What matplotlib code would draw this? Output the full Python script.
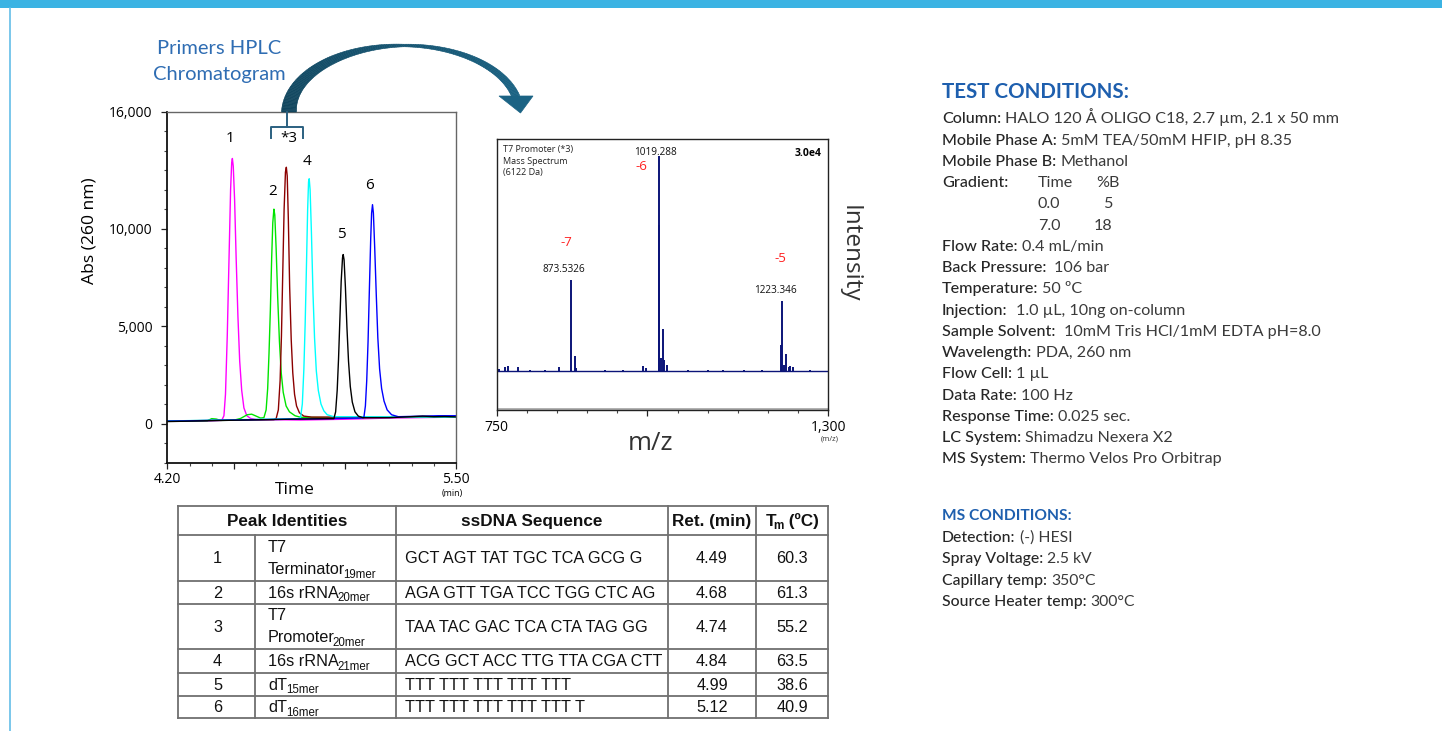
import matplotlib
matplotlib.use("Agg")
import matplotlib.pyplot as plt
from matplotlib.patches import Polygon, Rectangle
from matplotlib.ticker import FixedLocator, MultipleLocator
import numpy as np

# ------------------------------------------------------------------ data
# Chromatogram traces: time (min) and absorbance (260 nm)
p1_time = [4.20, 4.30, 4.40, 4.445, 4.455, 4.462, 4.470, 4.478, 4.485, 4.490, 4.493, 4.497, 4.503,
           4.510, 4.518, 4.526, 4.535, 4.545, 4.558, 4.575, 4.60, 4.80, 5.00, 5.20, 5.50]
p1_abs = [120, 130, 150, 160, 400, 1500, 4500, 8500, 12000, 13400, 13600, 13200, 11500,
          8500, 5500, 3200, 1700, 800, 400, 260, 210, 180, 220, 280, 330]

p2_time = [4.20, 4.38, 4.40, 4.42, 4.44, 4.50, 4.53, 4.56, 4.58, 4.60, 4.62, 4.635, 4.645, 4.652,
           4.658, 4.664, 4.670, 4.675, 4.680, 4.684, 4.690, 4.697, 4.705, 4.713, 4.722, 4.735,
           4.750, 4.775, 4.80, 5.00, 5.50]
p2_abs = [120, 140, 250, 230, 160, 170, 260, 450, 480, 380, 280, 300, 700, 1800,
          3600, 5800, 8500, 10300, 11000, 10700, 9000, 6500, 4200, 2600, 1600, 900,
          600, 400, 320, 300, 330]

p3_time = [4.20, 4.68, 4.690, 4.700, 4.708, 4.714, 4.720, 4.726, 4.732, 4.736, 4.740, 4.745,
           4.751, 4.758, 4.765, 4.773, 4.782, 4.795, 4.815, 4.85, 5.50]
p3_abs = [130, 200, 250, 700, 2200, 4500, 7800, 11000, 12900, 13150, 12700, 10500,
          7000, 4300, 2600, 1500, 900, 550, 380, 330, 330]

p4_time = [4.20, 4.79, 4.800, 4.808, 4.815, 4.821, 4.827, 4.832, 4.836, 4.839, 4.843, 4.849,
           4.856, 4.863, 4.871, 4.880, 4.892, 4.905, 4.92, 4.95, 5.50]
p4_abs = [130, 250, 300, 1000, 2800, 5200, 8300, 11000, 12400, 12560, 12000, 9800,
          6700, 4400, 2700, 1700, 1000, 650, 450, 350, 330]

p5_time = [4.20, 4.50, 4.80, 4.95, 4.958, 4.965, 4.971, 4.977, 4.983, 4.989, 4.992, 4.996,
           5.002, 5.009, 5.016, 5.024, 5.033, 5.045, 5.06, 5.08, 5.20, 5.35, 5.40, 5.45, 5.50]
p5_abs = [100, 170, 230, 250, 600, 1700, 3300, 5300, 7300, 8500, 8670, 8400,
          7000, 4900, 3200, 1900, 1100, 600, 380, 300, 300, 380, 350, 360, 340]

p6_time = [4.20, 5.07, 5.085, 5.092, 5.098, 5.104, 5.110, 5.116, 5.120, 5.124, 5.128, 5.134,
           5.141, 5.148, 5.156, 5.165, 5.176, 5.190, 5.21, 5.24, 5.35, 5.42, 5.50]
p6_abs = [120, 280, 300, 900, 2200, 4200, 6900, 9500, 10800, 11230, 10800, 9000,
          6600, 4400, 2800, 1800, 1150, 700, 450, 350, 380, 400, 400]

trace_colors = ["#ff00ff", "#00e400", "#8b0000", "#00ffff", "#000000", "#0000ff"]
peak_labels = ["1", "2", "*3", "4", "5", "6"]

# Mass spectrum (m/z, relative intensity; 100 = 3.0e4)
ms_mz = [754.4, 763.8, 769.3, 786.0, 805.0, 830.0, 854.0, 873.53, 879.6, 881.5, 930.0, 960.0,
         993.2, 997.0, 1019.29, 1019.9, 1022.1, 1025.2, 1027.9, 1031.8, 1068.0, 1100.0, 1126.0,
         1160.0, 1190.0, 1221.7, 1223.35, 1227.1, 1229.9, 1234.0, 1236.6, 1242.0, 1270.0]
ms_int = [1.1, 2.0, 2.6, 1.9, 0.6, 0.7, 2.0, 42.6, 7.3, 1.5, 0.7, 0.6,
          2.6, 1.5, 100.0, 68.0, 6.0, 19.8, 5.4, 3.1, 0.8, 0.6, 0.8,
          0.6, 0.7, 12.4, 32.9, 3.1, 8.2, 2.0, 2.3, 2.0, 0.6]
ms_label_text = ["873.5326", "1019.288", "1223.346"]
ms_charges = ["-7", "-6", "-5"]

# Table
tbl_num = ["1", "2", "3", "4", "5", "6"]
tbl_name_top = ["T7", "", "T7", "", "", ""]
tbl_name = ["Terminator", "16s rRNA", "Promoter", "16s rRNA", "dT", "dT"]
tbl_name_sub = ["19mer", "20mer", "20mer", "21mer", "15mer", "16mer"]
tbl_seq = ["GCT AGT TAT TGC TCA GCG G", "AGA GTT TGA TCC TGG CTC AG", "TAA TAC GAC TCA CTA TAG GG",
           "ACG GCT ACC TTG TTA CGA CTT", "TTT TTT TTT TTT TTT", "TTT TTT TTT TTT TTT T"]
tbl_ret = ["4.49", "4.68", "4.74", "4.84", "4.99", "5.12"]
tbl_tm = ["60.3", "61.3", "55.2", "63.5", "38.6", "40.9"]

cond_labels = ["Column:", "Mobile Phase A:", "Mobile Phase B:", "Gradient:", "", "",
               "Flow Rate:", "Back Pressure:", "Temperature:", "Injection:", "Sample Solvent:",
               "Wavelength:", "Flow Cell:", "Data Rate:", "Response Time:", "LC System:", "MS System:"]
cond_values = ["HALO 120 Å OLIGO C18, 2.7 µm, 2.1 x 50 mm", "5mM TEA/50mM HFIP, pH 8.35", "Methanol", "",
               "", "", "0.4 mL/min", "106 bar", "50 ºC", "1.0 µL, 10ng on-column",
               "10mM Tris HCl/1mM EDTA pH=8.0", "PDA, 260 nm", "1 µL", "100 Hz", "0.025 sec.",
               "Shimadzu Nexera X2", "Thermo Velos Pro Orbitrap"]
cond_gap = [1, 1, 1, 1, 1, 1, 1, 2, 1, 2, 2, 1, 1, 1, 1, 1, 1]
grad_time = ["0.0", "7.0"]
grad_b = ["5", "18"]

ms_labels = ["Detection:", "Spray Voltage:", "Capillary temp:", "Source Heater temp:"]
ms_values = ["(-) HESI", "2.5 kV", "350°C", "300°C"]

# ------------------------------------------------------------------ figure
W, H = 1442, 731
fig = plt.figure(figsize=(W / 100, H / 100), dpi=100)
CHART_FONT = ["Open Sans", "DejaVu Sans"]
COND_FONT = ["Lato", "DejaVu Sans"]
TBL_FONT = ["Liberation Sans", "DejaVu Sans"]


def rect(l, t, r, b):
    return [l / W, 1 - b / H, (r - l) / W, (b - t) / H]


# ---- chromatogram
ax1 = fig.add_axes(rect(167.3, 111.7, 456, 462.5))
traces = [(p1_time, p1_abs), (p2_time, p2_abs), (p3_time, p3_abs),
          (p4_time, p4_abs), (p6_time, p6_abs), (p5_time, p5_abs)]
order_colors = [trace_colors[0], trace_colors[1], trace_colors[2], trace_colors[3],
                trace_colors[5], trace_colors[4]]
for (tt, aa), c in zip(traces, order_colors):
    ax1.plot(tt, aa, color=c, lw=1.0)
ax1.set_xlim(4.2, 5.5)
ax1.set_ylim(-2000, 16000)
ax1.yaxis.set_major_locator(FixedLocator([0, 5000, 10000, 16000]))
ax1.set_yticklabels(["0", "5,000", "10,000", "16,000"], fontfamily=CHART_FONT, fontsize=10)
ax1.yaxis.set_minor_locator(MultipleLocator(1000))
ax1.xaxis.set_major_locator(FixedLocator([4.2, 4.5, 5.0, 5.5]))
ax1.set_xticklabels(["4.20", "", "", "5.50"], fontfamily=CHART_FONT, fontsize=10)
ax1.xaxis.set_minor_locator(MultipleLocator(0.1))
ax1.tick_params(axis="both", which="major", direction="out", length=4.5, width=0.9, color="#222")
ax1.tick_params(axis="both", which="minor", direction="out", length=2.5, width=0.8, color="#444")
ax1.tick_params(axis="y", which="major", pad=6)
ax1.tick_params(axis="x", which="major", pad=2.5)
for s in ["left", "bottom"]:
    ax1.spines[s].set_color("#111")
    ax1.spines[s].set_linewidth(1.3)
for s in ["top", "right"]:
    ax1.spines[s].set_color("#666")
    ax1.spines[s].set_linewidth(1.0)

# ---- mass spectrum
ax2 = fig.add_axes(rect(496.7, 139.3, 828.3, 410))
navy = "#0b1478"
ax2.axhline(0, color=navy, lw=1.0)
ax2.vlines(ms_mz, 0, ms_int, color=navy, lw=1.4)
ax2.axhline(-17.4, color="#b0b0b0", lw=1.4)
ax2.set_xlim(750, 1300)
ax2.set_ylim(-18, 108)
ax2.set_yticks([])
ax2.xaxis.set_major_locator(FixedLocator([750, 1000, 1300]))
ax2.set_xticklabels(["750", "", "1,300"], fontfamily=CHART_FONT, fontsize=10)
ax2.xaxis.set_minor_locator(MultipleLocator(50))
ax2.tick_params(axis="x", which="major", direction="out", length=4.5, width=0.9, pad=3, color="#222")
ax2.tick_params(axis="x", which="minor", direction="out", length=2.5, width=0.8, color="#444")
for s in ax2.spines.values():
    s.set_color("#222")
    s.set_linewidth(1.0)

# ---- overlay (pixel coordinates)
ov = fig.add_axes([0, 0, 1, 1])
ov.set_xlim(0, W)
ov.set_ylim(H, 0)
ov.set_axis_off()
ov.patch.set_visible(False)
R = fig.canvas.get_renderer()

ov.add_patch(Rectangle((0, 0), W, 8, color="#3bb3e3", lw=0))
ov.plot([9.5, 9.5], [8, H], color="#63bde8", lw=1.2)

# chart titles / labels
blue = "#2f6db3"
ov.text(219.5, 53.5, "Primers HPLC", color=blue, fontsize=14.5, family=COND_FONT, ha="center", va="baseline")
ov.text(219.5, 80.0, "Chromatogram", color=blue, fontsize=14.5, family=COND_FONT, ha="center", va="baseline")
ov.text(90, 230.7, "Abs (260 nm)", rotation=90, fontsize=12.6, family=CHART_FONT, ha="center", va="center")
ov.text(295, 494.5, "Time", fontsize=12.5, family=CHART_FONT, ha="center", va="baseline")
ov.text(452, 496, "(min)", fontsize=6.5, family=CHART_FONT, ha="center", va="baseline")

lab_pos = [(230, 142), (272.3, 194.6), (289, 142), (306.7, 165.3), (341.7, 237.6), (370, 188.6)]
for (x, y), s in zip(lab_pos, peak_labels):
    ov.text(x, y, s, fontsize=11, family=CHART_FONT, ha="center", va="baseline")

# bracket for *3
brc = "#2b6080"
ov.plot([271, 271, 302.7, 302.7], [138.3, 126.7, 126.7, 138.3], color=brc, lw=1.4)
ov.plot([286.7, 286.7], [111.7, 126.7], color=brc, lw=1.4)

# curved arrow (crescent)
cx, cy, a, b = 404.0, 112.0, 115.0, 66.5
th = np.linspace(np.pi, np.radians(13.5), 140)
wd = np.interp(np.degrees(th), [13.5, 45, 90, 130, 180], [8, 6, 2.5, 8.5, 15])
ox = cx + (a + wd / 2) * np.cos(th)
oy = cy - (b + wd / 2) * np.sin(th)
ix = cx + (a - wd / 2) * np.cos(th)
iy = cy - (b - wd / 2) * np.sin(th)
c0 = np.array([0x12, 0x46, 0x5e]) / 255
c1 = np.array([0x1b, 0x63, 0x84]) / 255
for i in range(len(th) - 1):
    f = i / (len(th) - 2)
    col = c0 * (1 - f) + c1 * f
    quad = [(ox[i], oy[i]), (ox[i + 1], oy[i + 1]), (ix[i + 1], iy[i + 1]), (ix[i], iy[i])]
    ov.add_patch(Polygon(quad, closed=True, facecolor=col, edgecolor=col, lw=0.4))
ov.add_patch(Polygon([(499, 96), (533, 96), (520.5, 113)], closed=True,
                     facecolor=c1, edgecolor=c1, lw=0.5))

# spectrum texts
sp = dict(family=CHART_FONT, va="baseline")
ov.text(502.7, 152.0, "T7 Promoter (*3)", fontsize=6.5, ha="left", color="#222", **sp)
ov.text(502.7, 163.5, "Mass Spectrum", fontsize=6.5, ha="left", color="#222", **sp)
ov.text(502.7, 175.0, "(6122 Da)", fontsize=6.5, ha="left", color="#222", **sp)
ov.text(821.7, 156.5, "3.0e4", fontsize=7.5, ha="right", weight="bold", **sp)
ms_lab_pos = [(564, 271.5), (655, 155.0), (775, 293.3)]
ms_ch_pos = [(566.7, 245.5), (641, 170.5), (780, 262)]
for (x, y), s in zip(ms_lab_pos, ms_label_text):
    ov.text(x, y, s, fontsize=7.2, ha="center", color="#111", **sp)
for (x, y), s in zip(ms_ch_pos, ms_charges):
    ov.text(x, y, s, fontsize=9.5, ha="center", color="#ff2020", **sp)
ov.text(850, 254, "Intensity", rotation=270, fontsize=17.5, family=CHART_FONT, ha="center", va="center",
        color="#333")
ov.text(650, 450.5, "m/z", fontsize=18.5, ha="center", color="#333", **sp)
ov.text(830, 441, "(m/z)", fontsize=5.5, ha="center", color="#333", **sp)


# ---- helper: sequence of text segments
def segs(x, y, parts, align="left", family=TBL_FONT, color="#111"):
    arts = []
    cur = x
    for s, size, dy, weight, adj in parts:
        cur += adj
        t = ov.text(cur, y + dy, s, fontsize=size, weight=weight, family=family,
                    ha="left", va="baseline", color=color)
        cur += t.get_window_extent(R).width
        arts.append(t)
    if align == "center":
        shift = (cur - x) / 2
        for t in arts:
            px, py = t.get_position()
            t.set_position((px - shift, py))
    return arts


# ---- table
cols = [178, 255, 396, 668, 756, 828]
rows = [506, 535, 581, 604, 649, 673, 696, 718]
lc = "#707070"
for y in rows:
    ov.plot([cols[0], cols[-1]], [y, y], color=lc, lw=1.3)
for x in [cols[0], cols[2], cols[3], cols[4], cols[5]]:
    ov.plot([x, x], [rows[0], rows[-1]], color=lc, lw=1.3)
ov.plot([cols[1], cols[1]], [rows[1], rows[-1]], color=lc, lw=1.3)

TS = 11.7
SS = 8.3
hy = (rows[0] + rows[1]) / 2 + 5.5
tf = dict(family=TBL_FONT, va="baseline", fontsize=TS, color="#111")
hf = dict(family=TBL_FONT, va="baseline", fontsize=12.3, color="#111", weight="bold")
ov.text((cols[0] + cols[2]) / 2, hy, "Peak Identities", ha="center", **hf)
ov.text((cols[2] + cols[3]) / 2, hy, "ssDNA Sequence", ha="center", **hf)
ov.text((cols[3] + cols[4]) / 2, hy, "Ret. (min)", ha="center", **hf)
segs((cols[4] + cols[5]) / 2, hy, [("T", 12.3, 0, "bold", 0), ("m", 8.5, 3, "bold", -2.5),
                                   (" (ºC)", 12.3, 0, "bold", 0)], align="center")

for i in range(6):
    yc = (rows[i + 1] + rows[i + 2]) / 2 + 5
    ov.text((cols[0] + cols[1]) / 2 + 1, yc, tbl_num[i], ha="center", **tf)
    if tbl_name_top[i]:
        ov.text(268, yc - 11, tbl_name_top[i], ha="left", **tf)
        segs(268, yc + 11, [(tbl_name[i], TS, 0, "normal", 0), (tbl_name_sub[i], SS, 3.5, "normal", -2.5)])
    else:
        segs(268, yc, [(tbl_name[i], TS, 0, "normal", 0), (tbl_name_sub[i], SS, 3.5, "normal", -1)])
    ov.text(405, yc, tbl_seq[i], ha="left", **tf)
    ov.text((cols[3] + cols[4]) / 2, yc, tbl_ret[i], ha="center", **tf)
    ov.text((cols[4] + cols[5]) / 2, yc, tbl_tm[i], ha="center", **tf)

# ---- test conditions
tblue = "#1e5fae"
ov.text(942, 97.5, "TEST CONDITIONS:", fontsize=14.8, weight="bold", color=tblue, family=COND_FONT,
        ha="left", va="baseline")
lab_c = "#262626"
val_c = "#3a3a3a"
CS = 11.6
for i, (lab, val) in enumerate(zip(cond_labels, cond_values)):
    yb = 117.5 + i * 21.25 + 5.8
    if lab:
        t = ov.text(942, yb, lab, fontsize=CS, family=COND_FONT, weight="medium", color=lab_c,
                    ha="left", va="baseline")
        w = t.get_window_extent(R).width
        if val:
            ov.text(942 + w + 4 * cond_gap[i], yb, val, fontsize=CS, family=COND_FONT, color=val_c,
                    ha="left", va="baseline")
g0 = 117.5 + 3 * 21.25 + 5.8
ov.text(1038, g0, "Time", fontsize=CS, family=COND_FONT, color=val_c, ha="left", va="baseline")
ov.text(1096, g0, "%B", fontsize=CS, family=COND_FONT, color=val_c, ha="left", va="baseline")
for k in range(2):
    yb = g0 + (k + 1) * 21.25
    ov.text(1038, yb, grad_time[k], fontsize=CS, family=COND_FONT, color=val_c, ha="left", va="baseline")
    ov.text(1112, yb, grad_b[k], fontsize=CS, family=COND_FONT, color=val_c, ha="right", va="baseline")

ov.text(942, 520.5, "MS CONDITIONS:", fontsize=11.2, weight="bold", color=tblue, family=COND_FONT,
        ha="left", va="baseline")
for i, (lab, val) in enumerate(zip(ms_labels, ms_values)):
    yb = 541.7 + i * 21.45
    t = ov.text(942, yb, lab, fontsize=11.3, family=COND_FONT, weight="medium", color=lab_c,
                ha="left", va="baseline")
    w = t.get_window_extent(R).width
    ov.text(942 + w + 4, yb, val, fontsize=11.3, family=COND_FONT, color=val_c, ha="left", va="baseline")

fig.savefig("out.png", dpi=100)
